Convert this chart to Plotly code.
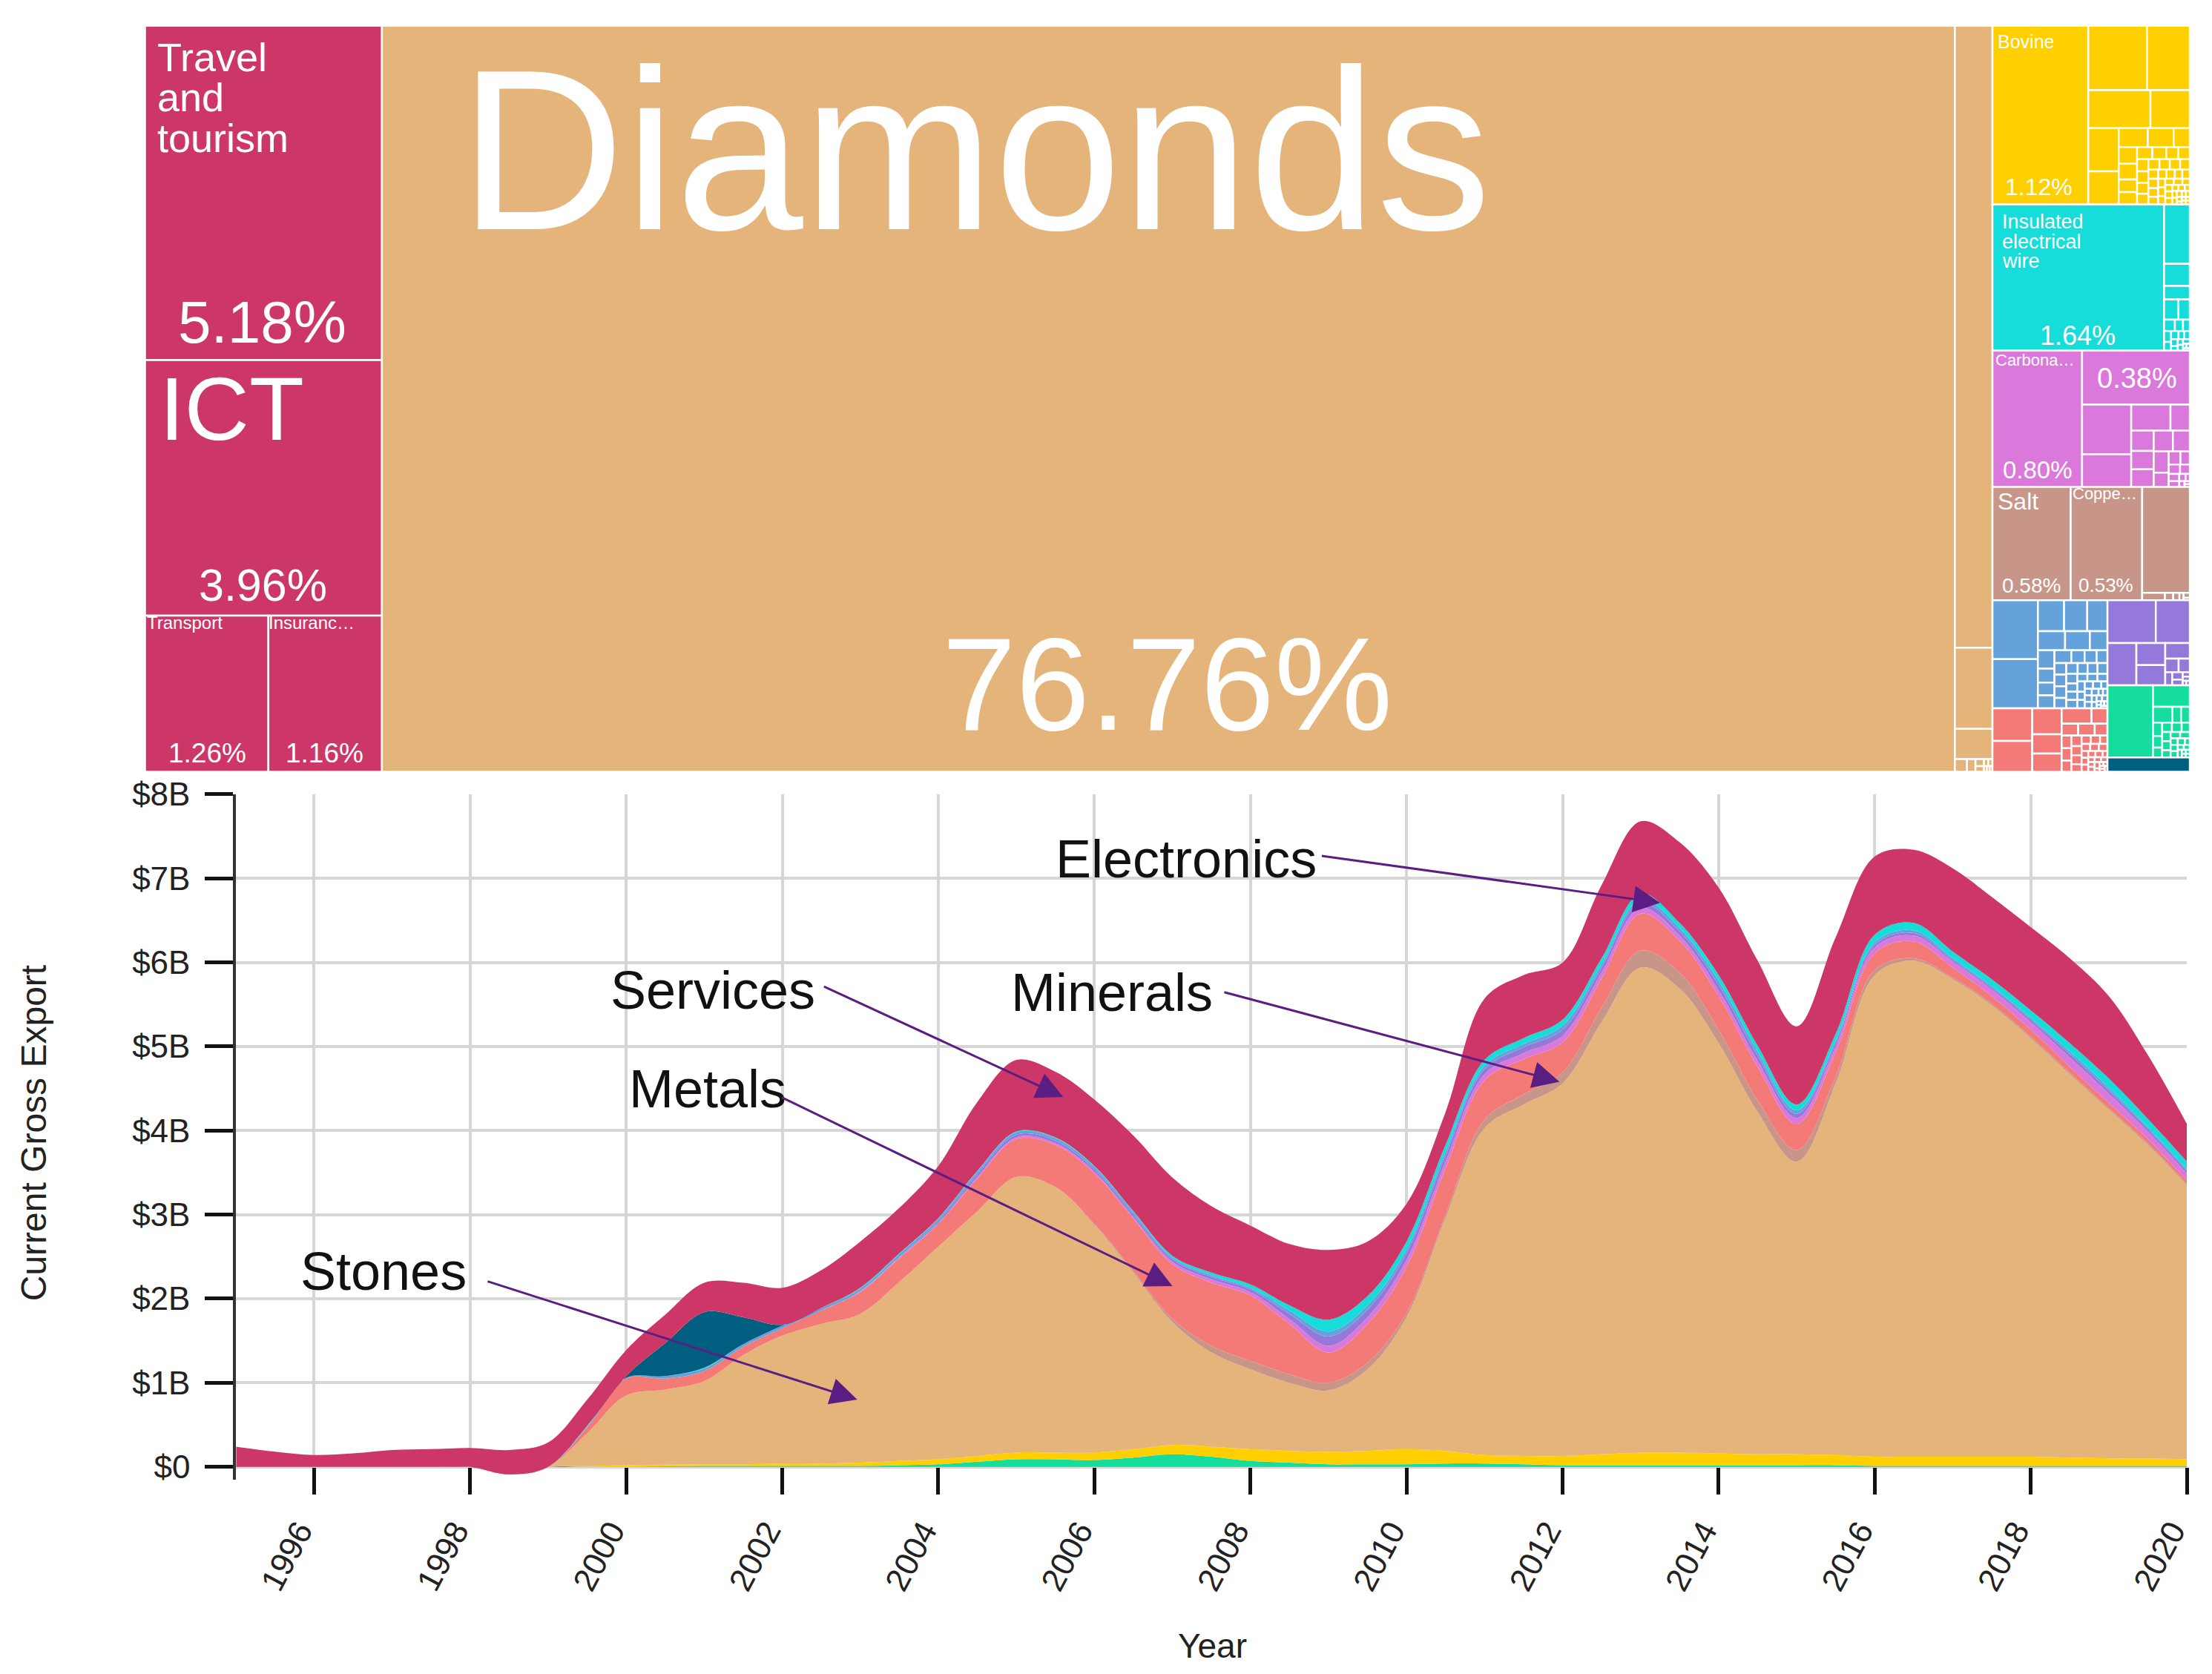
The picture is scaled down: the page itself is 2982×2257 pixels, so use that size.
import plotly.graph_objects as go

W, H = 2982, 2257
FONT = "Liberation Sans"

# ---------- treemap data (share of exports, %) ----------
group_names = ["Services", "Stones", "Animal Products", "Electronics", "Chemicals", "Minerals",
               "Instruments", "Metals", "Textiles", "Machinery", "Vehicles"]
group_colors = ["#CD3768", "#E5B47B", "#FFCF00", "#16DDD9", "#DA78DB", "#C79689",
                "#65A2DC", "#F47A78", "#9478DA", "#14DD9D", "#005F80"]
services = [5.18, 3.96, 1.26, 1.16]
stones = [76.76, 1.53, 0.20, 0.074, 0.01, 0.007, 0.004, 0.003, 0.002, 0.002, 0.001, 0.001, 0.001]
animal = [1.12, .247, .18, .155, .098, .086, .066, .036, .032, .02, .02, .019, .015, .015, .012, .011,
          .0095, .009, .009, .0085, .008, .008, .0075, .007, .007, .0065, .006, .006, .0055, .005, .005,
          .005, .0045, .0045, .004, .004, .004, .0035, .0035, .003, .003, .003, .003, .0025, .0025,
          .002, .002, .002, .002, .0015, .0015, .0015, .001, .001, .001, .001, .001]
electronics = [1.64, .1, .037, .023, .019, .015, .008, .006, .005, .005, .004, .004, .003, .003, .003,
               .002, .002, .002, .002, .001, .001, .001]
chemicals = [.80, .38, .16, .105, .067, .033, .03, .027, .026, .026, .023, .021, .014, .01, .008, .007,
             .006, .005, .004, .003, .002, .002, .001, .001]
minerals = [.58, .53, .33, .011, .004, .003, .002, .002, .001]
instruments = [.175, .146, .053, .047, .041, .034, .031, .022, .02, .015, .014, .014, .014, .011, .01,
               .009, .009, .009, .009, .008, .008, .007, .007, .007, .007, .006, .006, .006, .005, .005,
               .005, .005, .004, .004, .004, .004, .003, .003, .003, .003, .003, .002, .002, .002, .002,
               .002, .002, .001, .001, .001, .001, .001]
metals = [.085, .08, .05, .037, .035, .03, .016, .013, .013, .01, .008, .008, .007, .007, .006, .006,
          .005, .005, .005, .004, .004, .004, .004, .003, .003, .003, .003, .003, .002, .002, .002,
          .002, .002, .002, .002, .001, .001, .001, .001, .001, .001]
textiles = [.135, .095, .08, .042, .038, .025, .012, .01, .006, .005, .004, .002, .002, .001, .001]
machinery = [.215, .052, .02, .009, .009, .008, .007, .006, .006, .006, .005, .005, .005, .004, .004,
             .004, .003, .003, .003, .003, .002, .002, .002, .002, .001, .001, .001, .001]
vehicles = [.076]
group_leaves = [services, stones, animal, electronics, chemicals, minerals, instruments, metals,
                textiles, machinery, vehicles]

# ---------- stacked area data ($B), half-year readings ----------
years = [1995 + i * 0.5 for i in range(51)]
dip = [0]*7 + [-.09, 0] + [0]*42
s_machinery = [0]*9 + [0, 0, .005, .01, .01, .01, .01, .01, .02, .03, .06, .09, .09, .08, .11, .15, .12, .07,
                       .05, .03, .03, .03, .04, .04, .03, .02, .02, .02, .02, .02, .02, .02, .02, .01, .01,
                       .01, .01, .01, .01, .01, .01, .01]
s_animal = [0]*9 + [.01, .02, .02, .02, .02, .03, .03, .04, .05, .06, .07, .08, .08, .09, .10, .11, .12, .14,
                    .14, .15, .16, .18, .15, .10, .10, .11, .13, .15, .15, .14, .13, .13, .12, .11, .11,
                    .11, .11, .11, .10, .09, .09, .08]
s_stones = [0]*9 + [.39, .83, .895, .99, 1.30, 1.52, 1.66, 1.77, 2.13, 2.53, 2.91, 3.28, 3.16, 2.71, 2.10, 1.46,
                    1.12, .95, .81, .73, .97, 1.57, 2.77, 3.89, 4.18, 4.43, 5.14, 5.77, 5.52, 4.88, 4.07,
                    3.48, 4.42, 5.73, 5.90, 5.68, 5.37, 4.98, 4.56, 4.15, 3.73, 3.26]
s_minerals = [0]*22 + [.01, .02, .04, .08, .1, .1, .09, .08, .05, .04, .1, .12, .13, .17, .2, .19, .16, .14,
                       .14, .08, .06, .03, .02, .02, .02, .02, .02, .02, .02]
s_metals = [0]*9 + [.07, .2, .13, .12, .1, .09, .16, .26, .28, .27, .39, .45, .5, .6, .62, .65, .75, .78,
                    .6, .36, .46, .55, .55, .47, .42, .36, .35, .44, .38, .4, .4, .31, .29, .2, .2, .12,
                    .09, .08, .07, .06, .05, .04]
s_chemicals = [0]*16 + [.01, .01, .01, .02, .02, .02, .02, .02, .03, .04, .04, .06, .08, .08, .08, .08, .07,
                        .07, .08, .07, .07, .06, .07, .07, .07, .07, .07, .07, .07, .08, .09, .11, .11,
                        .09, .08]
s_textiles = [0]*17 + [.01, .02, .03, .03, .03, .03, .03, .03, .03, .03, .06, .11, .09, .08, .07, .06, .07,
                       .07, .06, .06, .05, .06, .06, .05, .04, .03, .03, .02, .02, .03, .04, .04, .03, .03]
s_instruments = [0]*9 + [.01, .01, .03, .03, .03, .03, .03, .03, .03, .03, .03, .03, .03, .03, .03, .02, .02,
                         .02, .04, .06, .05, .05, .05, .04, .04, .05, .04, .04, .04, .05, .05, .04, .03,
                         .03, .03, .02, .02, .02, .03, .03, .02, .02]
s_electronics = [0]*9 + [.01, 0, 0, .01, 0, 0, 0, .01, .01, .01, .01, .01, .01, .01, .01, .02, .03, .04, .06,
                         .14, .11, .09, .08, .07, .07, .07, .07, .07, .06, .07, .07, .07, .08, .09, .09,
                         .08, .08, .09, .10, .11, .10, .09]
s_vehicles = [0]*10 + [.02, .39, .66, .32, .01] + [0]*36
s_services = [.24, .18, .14, .16, .20, .21, .225, .29, .29, .31, .31, .34, .35, .41, .44, .45, .55, .54, .62,
              .82, .85, .78, .79, .90, .93, .79, .70, .73, .83, .65, .45, .39, .73, .75, .68, .87, .86, .96,
              1.04, 1.01, .93, 1.15, .93, .87, .99, .98, .99, 1.01, .98, .76, .45]

y_ticks = [0, 1, 2, 3, 4, 5, 6, 7, 8]
y_labels = ["$0", "$1B", "$2B", "$3B", "$4B", "$5B", "$6B", "$7B", "$8B"]
x_ticks = list(range(1996, 2021, 2))

# (label, label x, label y, arrow start x, start y, arrow end x, end y)
callouts = [
    ("Stones", 1996.89, 2.33, 1998.21, 2.21, 2002.96, 0.80),
    ("Services", 2001.11, 5.67, 2002.52, 5.72, 2005.60, 4.40),
    ("Metals", 2001.04, 4.50, 2001.98, 4.40, 2007.00, 2.15),
    ("Minerals", 2006.22, 5.64, 2007.65, 5.65, 2011.96, 4.58),
    ("Electronics", 2007.18, 7.23, 2008.90, 7.27, 2013.25, 6.71),
]

# (text, x px, y px, size, anchor) measured on the page
tree_labels = [
    ("Diamonds", 618, 179, 309, "left"),
    ("76.76%", 1577, 910, 179, "center"),
    ("Travel", 210, 53, 54, "left"),
    ("and", 210, 108, 54, "left"),
    ("tourism", 210, 163, 54, "left"),
    ("5.18%", 354, 415, 80, "center"),
    ("ICT", 214, 534, 121, "left"),
    ("3.96%", 355, 775, 61, "center"),
    ("Transport", 196, 826, 24, "left"),
    ("1.26%", 280, 1005, 37, "center"),
    ("Insuranc…", 361, 826, 24, "left"),
    ("1.16%", 439, 1005, 37, "center"),
    ("Bovine", 2697, 31, 25, "left"),
    ("1.12%", 2755, 230, 32, "center"),
    ("Insulated", 2703, 278, 27, "left"),
    ("electrical", 2703, 305, 27, "left"),
    ("wire", 2703, 332, 27, "left"),
    ("1.64%", 2808, 434, 36, "center"),
    ("Carbona…", 2694, 467, 22, "left"),
    ("0.38%", 2888, 492, 38, "center"),
    ("0.80%", 2753, 617, 33, "center"),
    ("Salt", 2697, 660, 32, "left"),
    ("Coppe…", 2799, 650, 22, "left"),
    ("0.58%", 2745, 775, 28, "center"),
    ("0.53%", 2846, 775, 26, "center"),
]

# ---------- build ----------
ids, parents, values, colors, labels = [], [], [], [], []
for name, col, leaves in zip(group_names, group_colors, group_leaves):
    ids.append(name); parents.append(""); values.append(0); colors.append(col); labels.append(name)
    for i, v in enumerate(leaves):
        ids.append(f"{name}-{i}"); parents.append(name); values.append(v); colors.append(col)
        labels.append(f"{name} {i}")

fig = go.Figure()
fig.add_trace(go.Treemap(
    ids=ids, parents=parents, values=values, labels=labels, branchvalues="remainder", sort=False,
    textinfo="none", hoverinfo="label+value",
    marker=dict(colors=colors, line=dict(color="white", width=2.5), depthfade=False,
                pad=dict(t=0, l=0, r=0, b=0)),
    tiling=dict(packing="squarify", pad=0, squarifyratio=1),
    pathbar=dict(visible=False), root=dict(color="white"),
    domain=dict(x=[196 / W, 2959 / W], y=[1 - 1030 / H, 1 - 10 / H]),
))

stack = [("Services", dip, "#CD3768"), ("Machinery", s_machinery, "#14DD9D"), ("Animal Products", s_animal, "#FFCF00"),
         ("Stones", s_stones, "#E5B47B"), ("Minerals", s_minerals, "#C79689"), ("Metals", s_metals, "#F47A78"),
         ("Chemicals", s_chemicals, "#DA78DB"), ("Textiles", s_textiles, "#9478DA"),
         ("Instruments", s_instruments, "#65A2DC"), ("Electronics", s_electronics, "#16DDD9"),
         ("Vehicles", s_vehicles, "#005F80"), ("Services", s_services, "#CD3768")]
for name, vals, col in stack:
    fig.add_trace(go.Scatter(x=years, y=vals, name=name, stackgroup="a", mode="lines",
                             line=dict(width=0, shape="spline", smoothing=1.0),
                             fillcolor=col, showlegend=False))

axis_font = dict(family=FONT, size=44, color="#222222")
X0, X1, Y8, Y0 = 319, 2955, 1061, 1981
fig.update_layout(
    width=W, height=H, margin=dict(l=0, r=0, t=0, b=0), paper_bgcolor="white", plot_bgcolor="white",
    showlegend=False, font=dict(family=FONT),
    xaxis=dict(domain=[X0 / W, X1 / W], range=[1995, 2020], anchor="free", position=1 - Y0 / H,
               tickmode="array", tickvals=x_ticks, ticktext=[str(v) for v in x_ticks], tickangle=-62,
               ticks="outside", ticklen=36, tickwidth=5, tickcolor="#111111", tickfont=axis_font,
               ticklabeloverflow="allow", ticklabelshift=-20, ticklabelstandoff=6,
               showgrid=True, gridcolor="#D6D6D6", gridwidth=4, showline=False, zeroline=False),
    yaxis=dict(domain=[1 - (Y0 + 17) / H, 1 - Y8 / H], range=[-0.15, 8], tickmode="array", tickvals=y_ticks,
               ticktext=y_labels, ticks="outside", ticklen=38, tickwidth=5, tickcolor="#111111",
               tickfont=axis_font, ticklabelstandoff=11,
               showgrid=True, gridcolor="#D6D6D6", gridwidth=4, showline=True, linecolor="#333333",
               linewidth=4, zeroline=False),
)

for text, lx, ly, sx, sy, ex, ey in callouts:
    fig.add_annotation(x=lx, y=ly, text=text, showarrow=False, font=dict(family=FONT, size=72, color="#111111"))
    fig.add_annotation(x=ex, y=ey, ax=sx, ay=sy, xref="x", yref="y", axref="x", ayref="y", text="",
                       showarrow=True, arrowhead=2, arrowsize=2.4, arrowwidth=3, arrowcolor="#5A1E82")

for text, px, py, size, anchor in tree_labels:
    fig.add_annotation(x=px / W, y=1 - py / H, xref="paper", yref="paper", text=text, showarrow=False,
                       xanchor=anchor, yanchor="middle", align="left",
                       font=dict(family=FONT, size=size, color="white"))

fig.add_annotation(x=46 / W, y=1 - 1524 / H, xref="paper", yref="paper", text="Current Gross Export", textangle=-90,
                   xanchor="center", yanchor="middle",
                   showarrow=False, font=dict(family=FONT, size=48, color="#222222"))
fig.add_annotation(x=1638 / W, y=1 - 2226 / H, xref="paper", yref="paper", text="Year",
                   xanchor="center", yanchor="middle",
                   showarrow=False, font=dict(family=FONT, size=46, color="#222222"))

fig.write_html("out.html", config={"displayModeBar": False}, post_script="document.body.style.margin='0';")
